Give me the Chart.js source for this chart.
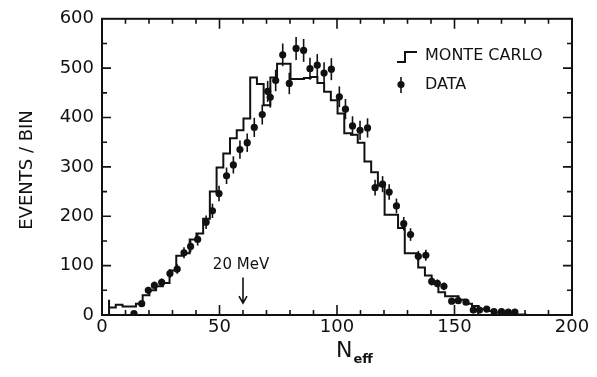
<!DOCTYPE html>
<html>
<head>
<meta charset="utf-8">
<script src="https://cdn.jsdelivr.net/npm/chart.js@4.4.1/dist/chart.umd.min.js"></script>
<style>
    html, body { margin: 0; padding: 0; background: #fff; }
    #contenitore { width: 597px; height: 377px; }
</style>
</head>
<body>
<div id="contenitore"><canvas id="graficoNeff"></canvas></div>
<script>
// Dati misurati: centro del bin in N_eff e conteggi
const dataN = [13.6, 16.9, 19.7, 22.3, 25.4, 28.9, 32.0, 34.9, 37.7, 40.7,
    44.3, 47.0, 49.8, 53.0, 55.9, 58.7, 61.8, 64.8, 68.2, 70.5,
    71.6, 73.9, 76.9, 79.7, 82.6, 85.8, 88.5, 91.6, 94.5, 97.6,
    101.0, 103.6, 106.6, 109.8, 113.0, 116.2, 119.4, 122.2, 125.3, 128.4,
    131.3, 134.6, 137.8, 140.3, 142.7, 145.5, 148.8, 151.6, 154.9, 158.0,
    160.6, 163.7, 166.8, 170.0, 172.9, 175.7];
const dataEvents = [3, 23, 50, 60, 66, 84, 93, 126, 139, 153,
    188, 211, 246, 282, 304, 335, 349, 380, 406, 453,
    441, 475, 527, 469, 540, 536, 499, 506, 490, 498,
    442, 417, 383, 374, 379, 258, 265, 249, 221, 185,
    163, 119, 121, 68, 64, 58, 28, 29, 26, 10,
    10, 12, 7, 7, 6, 6];

// Istogramma Monte Carlo: bin uniformi a partire da mcStart
const mcStart = 3;
const mcWidth = 2.86;
const mcEvents = [31, 15, 21, 17, 17, 23, 40, 50, 58, 65,
    90, 120, 125, 153, 165, 195, 250, 299, 327, 358,
    374, 398, 481, 468, 425, 481, 509, 509, 478, 478,
    480, 482, 470, 452, 435, 408, 368, 365, 349, 311,
    289, 262, 203, 203, 176, 125, 125, 96, 80, 63,
    46, 38, 38, 31, 23, 18, 12, 8, 5, 4,
    2, 1, 1];

const xTicks = [0, 50, 100, 150, 200];
const yTicks = [0, 100, 200, 300, 400, 500, 600];

// Soglia indicata con la freccia
const sogliaN = 60;
const sogliaLabel = '20 MeV';

const FONT = "'DejaVu Sans', sans-serif";
const NERO = '#111';

Chart.defaults.font.family = FONT;
Chart.defaults.color = NERO;

const puntiMC = mcEvents.map((v, i) => ({ x: mcStart + i * mcWidth, y: v }));
puntiMC.unshift({ x: mcStart, y: 0 });
puntiMC.push({ x: mcStart + mcEvents.length * mcWidth, y: 0 });

const puntiDati = dataN.map((n, i) => ({ x: n, y: dataEvents[i] }));

// Cornice, tacche interne, barre d'errore, legenda e scritte
const decorazioni = {
    id: 'decorazioni',
    afterDatasetsDraw(chart) {
        const { ctx, chartArea: a, scales: { x, y } } = chart;
        ctx.save();
        ctx.strokeStyle = NERO;
        ctx.fillStyle = NERO;

        // barre d'errore (poissoniane)
        ctx.lineWidth = 1.6;
        puntiDati.forEach(p => {
            const e = Math.sqrt(p.y);
            const px = x.getPixelForValue(p.x);
            ctx.beginPath();
            ctx.moveTo(px, y.getPixelForValue(p.y + e));
            ctx.lineTo(px, y.getPixelForValue(Math.max(0, p.y - e)));
            ctx.stroke();
        });

        // cornice
        ctx.lineWidth = 2;
        ctx.strokeRect(a.left, a.top, a.right - a.left, a.bottom - a.top);

        // tacche verso l'interno
        ctx.lineWidth = 1.6;
        for (let v = 10; v < 200; v += 10) {
            const px = x.getPixelForValue(v);
            const l = v % 50 === 0 ? 10 : 5;
            ctx.beginPath();
            ctx.moveTo(px, a.bottom); ctx.lineTo(px, a.bottom - l);
            ctx.moveTo(px, a.top); ctx.lineTo(px, a.top + l);
            ctx.stroke();
        }
        for (let v = 50; v < 600; v += 50) {
            const py = y.getPixelForValue(v);
            const l = v % 100 === 0 ? 9 : 5;
            ctx.beginPath();
            ctx.moveTo(a.left, py); ctx.lineTo(a.left + l, py);
            ctx.moveTo(a.right, py); ctx.lineTo(a.right - l, py);
            ctx.stroke();
        }

        // freccia della soglia
        const fx = x.getPixelForValue(sogliaN);
        const fTop = y.getPixelForValue(76);
        const fBot = y.getPixelForValue(24);
        ctx.lineWidth = 1.6;
        ctx.beginPath();
        ctx.moveTo(fx, fTop); ctx.lineTo(fx, fBot);
        ctx.moveTo(fx - 4, fBot - 7); ctx.lineTo(fx, fBot); ctx.lineTo(fx + 4, fBot - 7);
        ctx.stroke();
        ctx.font = '15px ' + FONT;
        ctx.textAlign = 'center';
        ctx.textBaseline = 'middle';
        ctx.fillText(sogliaLabel, fx - 2, y.getPixelForValue(102));

        // legenda
        ctx.lineWidth = 2;
        ctx.beginPath();
        ctx.moveTo(397, 62); ctx.lineTo(405, 62); ctx.lineTo(405, 52); ctx.lineTo(417, 52);
        ctx.stroke();
        ctx.lineWidth = 1.6;
        ctx.beginPath();
        ctx.moveTo(401, 77); ctx.lineTo(401, 93);
        ctx.stroke();
        ctx.beginPath();
        ctx.arc(401, 84.5, 3.6, 0, Math.PI * 2);
        ctx.fill();
        ctx.font = '16px ' + FONT;
        ctx.textAlign = 'left';
        ctx.fillText('MONTE CARLO', 425, 56);
        ctx.fillText('DATA', 425, 85);

        // titolo asse y
        ctx.save();
        ctx.translate(27, 170);
        ctx.rotate(-Math.PI / 2);
        ctx.font = '18px ' + FONT;
        ctx.textAlign = 'center';
        ctx.fillText('EVENTS / BIN', 0, 0);
        ctx.restore();

        // titolo asse x con pedice
        ctx.textAlign = 'left';
        ctx.textBaseline = 'alphabetic';
        ctx.font = '22px ' + FONT;
        ctx.fillText('N', 336, 357);
        const wN = ctx.measureText('N').width;
        ctx.font = 'bold 13px ' + FONT;
        ctx.fillText('eff', 336 + wN + 1, 363);

        ctx.restore();
    }
};

const ctx = document.getElementById('graficoNeff').getContext('2d');

new Chart(ctx, {
    data: {
        datasets: [{
            type: 'line',
            label: 'MONTE CARLO',
            data: puntiMC,
            stepped: 'after',
            borderColor: NERO,
            borderWidth: 2,
            pointRadius: 0,
            fill: false
        }, {
            type: 'scatter',
            label: 'DATA',
            data: puntiDati,
            pointRadius: 3.6,
            pointHoverRadius: 3.6,
            backgroundColor: NERO,
            borderWidth: 0
        }]
    },
    options: {
        responsive: true,
        maintainAspectRatio: false,
        animation: false,
        layout: { padding: { top: 14, right: 25, left: 0, bottom: 0 } },
        scales: {
            x: {
                type: 'linear',
                min: 0,
                max: 200,
                afterBuildTicks: s => { s.ticks = xTicks.map(v => ({ value: v })); },
                afterFit: s => { s.height = 62; },
                ticks: { font: { size: 18 }, padding: 2, color: NERO, maxRotation: 0 },
                grid: { display: false, drawTicks: false },
                border: { display: true, color: NERO, width: 2 }
            },
            y: {
                min: 0,
                max: 600,
                afterBuildTicks: s => { s.ticks = yTicks.map(v => ({ value: v })); },
                afterFit: s => { s.width = 102; },
                ticks: { font: { size: 18 }, padding: 8, color: NERO },
                grid: { display: false, drawTicks: false },
                border: { display: true, color: NERO, width: 2 }
            }
        },
        plugins: {
            legend: { display: false },
            tooltip: { enabled: false }
        }
    },
    plugins: [decorazioni]
});
</script>
</body>
</html>
